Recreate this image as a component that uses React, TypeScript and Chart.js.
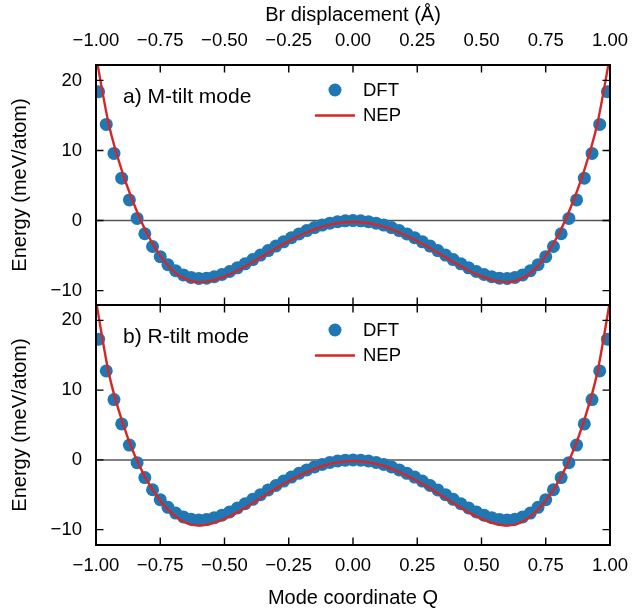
import { useEffect, useRef } from 'react';
import { Chart, registerables } from 'chart.js';

Chart.register(...registerables);

// ---------- data ----------
const qDFT = [
  -0.99, -0.96, -0.93, -0.90, -0.87, -0.84, -0.81, -0.78, -0.75, -0.72, -0.69,
  -0.66, -0.63, -0.60, -0.57, -0.54, -0.51, -0.48, -0.45, -0.42, -0.39, -0.36,
  -0.33, -0.30, -0.27, -0.24, -0.21, -0.18, -0.15, -0.12, -0.09, -0.06, -0.03,
  0.00, 0.03, 0.06, 0.09, 0.12, 0.15, 0.18, 0.21, 0.24, 0.27, 0.30, 0.33, 0.36,
  0.39, 0.42, 0.45, 0.48, 0.51, 0.54, 0.57, 0.60, 0.63, 0.66, 0.69, 0.72, 0.75,
  0.78, 0.81, 0.84, 0.87, 0.90, 0.93, 0.96, 0.99,
];

const dftM = [
  18.40, 13.72, 9.58, 6.05, 2.95, 0.30, -1.88, -3.70, -5.16, -6.31, -7.16,
  -7.76, -8.11, -8.26, -8.22, -8.02, -7.70, -7.27, -6.75, -6.18, -5.57, -4.92,
  -4.28, -3.64, -3.03, -2.45, -1.91, -1.43, -1.00, -0.65, -0.37, -0.16, -0.04,
  0.00, -0.04, -0.16, -0.37, -0.65, -1.00, -1.43, -1.91, -2.45, -3.03, -3.64,
  -4.28, -4.92, -5.57, -6.18, -6.75, -7.27, -7.70, -8.02, -8.22, -8.26, -8.11,
  -7.76, -7.16, -6.31, -5.16, -3.70, -1.88, 0.30, 2.95, 6.05, 9.58, 13.72, 18.40,
];

const dftR = [
  17.30, 12.75, 8.65, 5.15, 2.12, -0.40, -2.53, -4.28, -5.70, -6.80, -7.62,
  -8.17, -8.50, -8.60, -8.53, -8.29, -7.92, -7.46, -6.90, -6.29, -5.65, -4.98,
  -4.31, -3.67, -3.04, -2.46, -1.92, -1.44, -1.01, -0.65, -0.36, -0.16, -0.04,
  0.00, -0.04, -0.16, -0.36, -0.65, -1.01, -1.44, -1.92, -2.46, -3.04, -3.67,
  -4.31, -4.98, -5.65, -6.29, -6.90, -7.46, -7.92, -8.29, -8.53, -8.60, -8.50,
  -8.17, -7.62, -6.80, -5.70, -4.28, -2.53, -0.40, 2.12, 5.15, 8.65, 12.75, 17.30,
];

const qNEP = [
  -1.00, -0.95, -0.90, -0.85, -0.80, -0.75, -0.70, -0.65, -0.60, -0.55, -0.50,
  -0.45, -0.40, -0.35, -0.30, -0.25, -0.20, -0.15, -0.10, -0.05, 0.00, 0.05,
  0.10, 0.15, 0.20, 0.25, 0.30, 0.35, 0.40, 0.45, 0.50, 0.55, 0.60, 0.65, 0.70,
  0.75, 0.80, 0.85, 0.90, 0.95, 1.00,
];

const nepM = [
  23.50, 13.70, 7.20, 2.15, -1.95, -5.00, -7.20, -8.35, -8.78, -8.58, -7.98,
  -7.13, -6.13, -5.05, -3.95, -2.93, -2.02, -1.25, -0.68, -0.32, -0.20, -0.32,
  -0.68, -1.25, -2.02, -2.93, -3.95, -5.05, -6.13, -7.13, -7.98, -8.58, -8.78,
  -8.35, -7.20, -5.00, -1.95, 2.15, 7.20, 13.70, 23.50,
];

const nepR = [
  22.80, 12.40, 5.75, 0.70, -3.05, -5.85, -7.80, -9.02, -9.42, -9.12, -8.45,
  -7.52, -6.42, -5.24, -4.08, -3.02, -2.08, -1.28, -0.66, -0.30, -0.15, -0.30,
  -0.66, -1.28, -2.08, -3.02, -4.08, -5.24, -6.42, -7.52, -8.45, -9.12, -9.42,
  -9.02, -7.80, -5.85, -3.05, 0.70, 5.75, 12.40, 22.80,
];

const xTickVals = [-1, -0.75, -0.5, -0.25, 0, 0.25, 0.5, 0.75, 1];
const yTickVals = [-10, 0, 10, 20];
const seriesNames = ['DFT', 'NEP'];
const panelLabels = ['a) M-tilt mode', 'b) R-tilt mode'];
const topTitle = 'Br displacement (Å)';
const bottomTitle = 'Mode coordinate Q';
const yTitle = 'Energy (meV/atom)';

// ---------- styles ----------
const FONT = "'Liberation Sans', Arial, Helvetica, sans-serif";
const BLUE = '#1f77b4';
const RED = '#d62728';
const W = 641;
const H = 613;
const TICK_FONT = 18.5;
const TITLE_FONT = 20;
const DOT_R = 6.5;

const minus = (s: string) => s.replace('-', '\u2212');
const fmtX = (v: number) => minus(Number(v).toFixed(2));
const fmtY = (v: number) => minus(String(Math.round(Number(v))));

const toPts = (xs: number[], ys: number[]) => xs.map((x, i) => ({ x, y: ys[i] }));

const panelIds = ['yT', 'yB'];

const panelPlugin = {
  id: 'panels',
  beforeDatasetsDraw(chart: any) {
    const { ctx } = chart;
    const xs = chart.scales.x;
    for (const id of panelIds) {
      const ys = chart.scales[id];
      const y0 = ys.getPixelForValue(0);
      ctx.save();
      ctx.strokeStyle = '#555555';
      ctx.lineWidth = 1.5;
      ctx.beginPath();
      ctx.moveTo(xs.left, y0);
      ctx.lineTo(xs.right, y0);
      ctx.stroke();
      ctx.restore();
    }
  },
  beforeDatasetDraw(chart: any, args: any) {
    const { ctx } = chart;
    const xs = chart.scales.x;
    const ys = chart.scales[args.meta.yAxisID];
    ctx.save();
    ctx.beginPath();
    ctx.rect(xs.left, ys.top, xs.right - xs.left, ys.bottom - ys.top);
    ctx.clip();
  },
  afterDatasetDraw(chart: any) {
    chart.ctx.restore();
  },
  afterDraw(chart: any) {
    const { ctx } = chart;
    const xs = chart.scales.x;
    const L = 7.5;
    panelIds.forEach((id, p) => {
      const ys = chart.scales[id];
      const top = ys.top;
      const bottom = ys.bottom;
      ctx.save();
      ctx.strokeStyle = '#000';
      ctx.lineWidth = 1.4;
      ctx.beginPath();
      for (const v of xTickVals) {
        const px = xs.getPixelForValue(v);
        ctx.moveTo(px, top);
        ctx.lineTo(px, top + L);
        ctx.moveTo(px, bottom);
        ctx.lineTo(px, bottom - L);
      }
      for (const v of yTickVals) {
        const py = ys.getPixelForValue(v);
        ctx.moveTo(xs.left, py);
        ctx.lineTo(xs.left + L, py);
        ctx.moveTo(xs.right, py);
        ctx.lineTo(xs.right - L, py);
      }
      ctx.stroke();
      ctx.lineWidth = 2;
      ctx.strokeRect(xs.left, top, xs.right - xs.left, bottom - top);

      // panel label
      ctx.fillStyle = '#000';
      ctx.font = `21px ${FONT}`;
      ctx.textAlign = 'left';
      ctx.textBaseline = 'middle';
      ctx.fillText(panelLabels[p], xs.left + 27, top + 32);

      // legend
      const lx = 335;
      ctx.fillStyle = BLUE;
      ctx.beginPath();
      ctx.arc(lx, top + 25, DOT_R, 0, Math.PI * 2);
      ctx.fill();
      ctx.strokeStyle = RED;
      ctx.lineWidth = 2.4;
      ctx.beginPath();
      ctx.moveTo(lx - 20, top + 50.5);
      ctx.lineTo(lx + 20, top + 50.5);
      ctx.stroke();
      ctx.fillStyle = '#000';
      ctx.font = `18.5px ${FONT}`;
      ctx.fillText(seriesNames[0], lx + 28, top + 26);
      ctx.fillText(seriesNames[1], lx + 28, top + 51);
      ctx.restore();
    });
  },
};

const xAxisBase = (position: 'top' | 'bottom', title: string, h: number, pad: number, titlePad: any) => ({
  type: 'linear',
  position,
  min: -1,
  max: 1,
  afterBuildTicks: (s: any) => {
    s.ticks = xTickVals.map((v) => ({ value: v }));
  },
  afterFit: (s: any) => {
    s.height = h;
  },
  ticks: {
    callback: (v: any) => fmtX(v),
    font: { family: FONT, size: TICK_FONT },
    color: '#000',
    padding: pad,
    maxRotation: 0,
    autoSkip: false,
  },
  grid: { display: false, drawTicks: false },
  border: { display: false },
  title: {
    display: true,
    text: title,
    color: '#000',
    font: { family: FONT, size: TITLE_FONT },
    padding: titlePad,
  },
});

const yAxisBase = (min: number, weight: number) => ({
  type: 'linear',
  position: 'left',
  stack: 'panels',
  stackWeight: 1,
  weight,
  min,
  max: 22.2,
  afterBuildTicks: (s: any) => {
    s.ticks = yTickVals.map((v) => ({ value: v }));
  },
  afterFit: (s: any) => {
    s.width = 96;
  },
  ticks: {
    callback: (v: any) => fmtY(v),
    font: { family: FONT, size: TICK_FONT },
    color: '#000',
    padding: 14,
  },
  grid: { display: false, drawTicks: false },
  border: { display: false },
  title: {
    display: true,
    text: yTitle,
    color: '#000',
    font: { family: FONT, size: TITLE_FONT },
    padding: { top: 8, bottom: 0 },
  },
});

export default function App() {
  const ref = useRef<HTMLCanvasElement>(null);

  useEffect(() => {
    const canvas = ref.current;
    if (!canvas) return;
    const scatterStyle = {
      type: 'scatter' as const,
      pointRadius: DOT_R,
      pointHoverRadius: DOT_R,
      pointBackgroundColor: BLUE,
      pointBorderWidth: 0,
      backgroundColor: BLUE,
      borderColor: BLUE,
      showLine: false,
      order: 1,
    };
    const lineStyle = {
      type: 'line' as const,
      borderColor: RED,
      borderWidth: 2.4,
      pointRadius: 0,
      fill: false,
      cubicInterpolationMode: 'monotone' as const,
      order: 0,
    };
    const chart = new Chart(canvas, {
      type: 'scatter',
      data: {
        datasets: [
          { ...scatterStyle, label: seriesNames[0], data: toPts(qDFT, dftM), yAxisID: 'yT', xAxisID: 'x' },
          { ...lineStyle, label: seriesNames[1], data: toPts(qNEP, nepM), yAxisID: 'yT', xAxisID: 'x' },
          { ...scatterStyle, label: seriesNames[0], data: toPts(qDFT, dftR), yAxisID: 'yB', xAxisID: 'x' },
          { ...lineStyle, label: seriesNames[1], data: toPts(qNEP, nepR), yAxisID: 'yB', xAxisID: 'x' },
        ] as any,
      },
      options: {
        animation: false,
        responsive: false,
        devicePixelRatio: 1,
        layout: { padding: { left: 0, top: 0, right: 21, bottom: 0 } },
        plugins: {
          legend: { display: false },
          tooltip: { enabled: false },
        },
        events: [],
        scales: {
          x: xAxisBase('bottom', bottomTitle, 68, 10, { top: 0, bottom: 3 }),
          xTop: xAxisBase('top', topTitle, 65, 13, { top: 3, bottom: 0 }),
          yB: yAxisBase(-12.2, 0),
          yT: yAxisBase(-12.05, 1),
        } as any,
      },
      plugins: [panelPlugin as any],
    });
    return () => chart.destroy();
  }, []);

  return (
    <div style={{ position: 'absolute', left: 0, top: 0, width: W, height: H, background: '#fff' }}>
      <canvas ref={ref} width={W} height={H} style={{ display: 'block', width: W, height: H }} />
    </div>
  );
}
